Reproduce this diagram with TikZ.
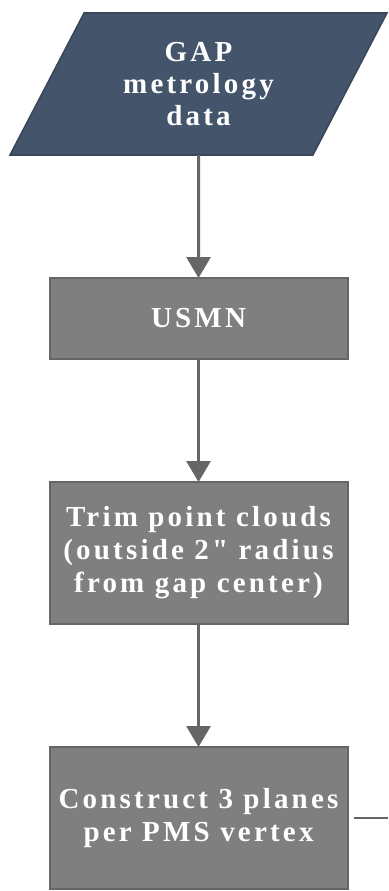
\documentclass[tikz,border=0pt]{standalone}
\usepackage{fontspec}
\newfontfamily\boxfont[LetterSpace=11]{Liberation Serif}
\usepackage{xcolor}
\usetikzlibrary{shapes.geometric, arrows.meta, positioning}
\definecolor{slate}{HTML}{44546A}
\definecolor{boxgray}{HTML}{7F7F7F}
\definecolor{edgegray}{HTML}{666666}

\begin{document}
\begin{tikzpicture}[node distance=61.5pt, align=center]
    % Define styles
    \tikzstyle{data} = [trapezium, trapezium left angle=59.7, trapezium right angle=120.3, trapezium stretches=true, minimum width=188.5pt, minimum height=71pt, inner sep=0pt, outer sep=0pt, draw=slate!85!black, line width=0.8pt, fill=slate, text=white, font=\boxfont\bfseries\fontsize{14.5}{16}\selectfont]
    \tikzstyle{process} = [rectangle, minimum width=149pt, minimum height=71pt, inner sep=0pt, outer sep=0pt, draw=edgegray, line width=1pt, fill=boxgray, text=white, font=\boxfont\bfseries\fontsize{14.5}{16.5}\selectfont]
    \tikzstyle{arrow} = [line width=1.5pt, draw=edgegray, -{Triangle[width=12pt,length=10.5pt]}]
    \tikzstyle{line} = [line width=1pt, draw=edgegray]

    \useasboundingbox (0,0) rectangle (194pt,-445.5pt);

    % Nodes
    \node (gap) [data] at (99.25pt,-42pt) {GAP\\metrology\\data};
    \node (usmn) [process, minimum height=40.5pt, below=of gap] {USMN};
    \node (trim) [process, below=of usmn] {Trim point clouds\\(outside 2" radius\\from gap center)};
    \node (planes) [process, below=of trim] {Construct 3 planes\\per PMS vertex};
    \coordinate [right=20pt of planes] (next);

    % Arrows
    \draw [arrow] (gap) -- (usmn);
    \draw [arrow] (usmn) -- (trim);
    \draw [arrow] (trim) -- (planes);
    \draw [line] ([xshift=3pt]planes.east) -- (next);
\end{tikzpicture}
\end{document}
